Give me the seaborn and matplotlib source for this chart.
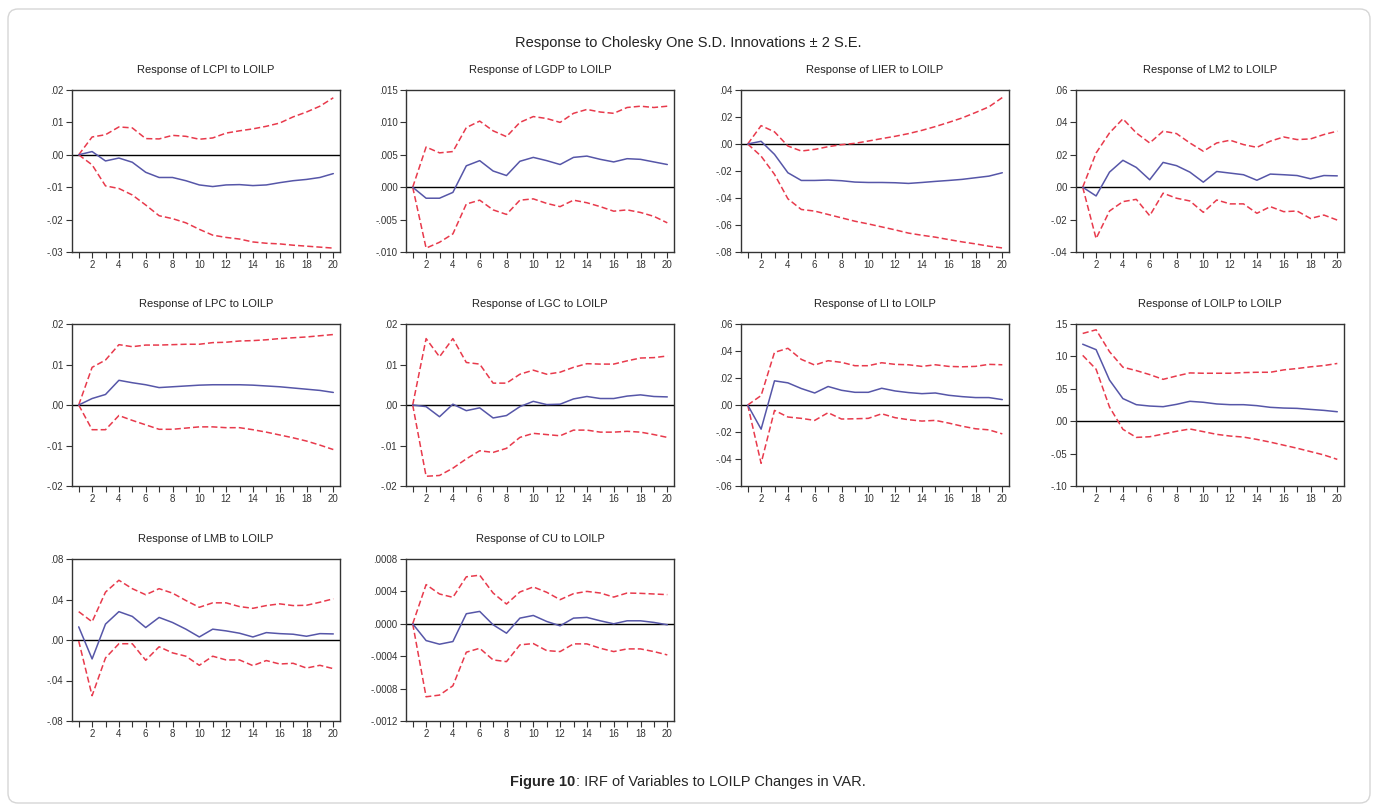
import matplotlib
matplotlib.use("Agg")
import matplotlib.pyplot as plt
from matplotlib.patches import FancyBboxPatch
from matplotlib.transforms import IdentityTransform
import seaborn as sns

steps = list(range(1, 21))
x_labels = [str(s) if s % 2 == 0 else "" for s in steps]

# impulse responses (solid) and +/- 2 S.E. bands (dashed)
lcpi_resp = [0.0, 0.001, -0.0019, -0.001, -0.0023, -0.0054, -0.007, -0.007, -0.008, -0.0093,
             -0.0098, -0.0093, -0.0092, -0.0095, -0.0093, -0.0086, -0.008, -0.0076, -0.007, -0.0058]
lcpi_upper = [0.0, 0.0055, 0.0062, 0.0086, 0.0083, 0.005, 0.0049, 0.006, 0.0057, 0.0048,
              0.0052, 0.0067, 0.0074, 0.008, 0.0088, 0.0098, 0.0117, 0.0132, 0.015, 0.0176]
lcpi_lower = [0.0, -0.0031, -0.0096, -0.0104, -0.0124, -0.0155, -0.0188, -0.0197, -0.021, -0.023,
              -0.0248, -0.0255, -0.026, -0.0269, -0.0273, -0.0275, -0.0279, -0.0282, -0.0285, -0.0288]

lgdp_resp = [0.0, -0.0017, -0.0017, -0.0008, 0.0033, 0.0041, 0.0025, 0.0018, 0.004, 0.0046,
             0.0041, 0.0035, 0.0046, 0.0048, 0.0043, 0.0039, 0.0044, 0.0043, 0.0039, 0.0035]
lgdp_upper = [0.0, 0.0062, 0.0053, 0.0055, 0.0092, 0.0102, 0.0087, 0.0078, 0.01, 0.0109,
              0.0106, 0.01, 0.0114, 0.012, 0.0116, 0.0114, 0.0123, 0.0125, 0.0123, 0.0125]
lgdp_lower = [0.0, -0.0094, -0.0085, -0.0072, -0.0026, -0.002, -0.0035, -0.0042, -0.002, -0.0018,
              -0.0025, -0.003, -0.002, -0.0024, -0.003, -0.0037, -0.0035, -0.0039, -0.0045, -0.0055]

lier_resp = [0.0, 0.002, -0.0077, -0.0213, -0.027, -0.027, -0.0267, -0.0272, -0.0282, -0.0285,
             -0.0285, -0.0287, -0.0292, -0.0285, -0.0277, -0.027, -0.0262, -0.025, -0.0238, -0.0213]
lier_upper = [0.0, 0.0136, 0.009, -0.0015, -0.0052, -0.004, -0.002, -0.0005, 0.0005, 0.0022,
              0.004, 0.0057, 0.0077, 0.0101, 0.0129, 0.016, 0.0193, 0.0233, 0.0275, 0.0344]
lier_lower = [0.0, -0.009, -0.0225, -0.0406, -0.0485, -0.0497, -0.0522, -0.0547, -0.0572, -0.0592,
              -0.0614, -0.0636, -0.066, -0.0676, -0.069, -0.0708, -0.0725, -0.074, -0.0757, -0.077]

lm2_resp = [0.0, -0.0054, 0.0093, 0.0166, 0.0122, 0.0046, 0.0153, 0.0133, 0.0093, 0.0031,
            0.0097, 0.0087, 0.0077, 0.0043, 0.0081, 0.0077, 0.0072, 0.0052, 0.0072, 0.007]
lm2_upper = [0.0, 0.0211, 0.0335, 0.0422, 0.0335, 0.0273, 0.0346, 0.0331, 0.0273, 0.0222,
             0.0273, 0.029, 0.0263, 0.0246, 0.0284, 0.031, 0.0294, 0.0298, 0.0325, 0.0346]
lm2_lower = [0.0, -0.0317, -0.0147, -0.0089, -0.0075, -0.0176, -0.0037, -0.0068, -0.0085, -0.0155,
             -0.0079, -0.0103, -0.0103, -0.0161, -0.012, -0.0151, -0.0147, -0.0193, -0.0172, -0.0203]

lpc_resp = [0.0, 0.0016, 0.0026, 0.0061, 0.0055, 0.005, 0.0043, 0.0045, 0.0047, 0.0049,
            0.005, 0.005, 0.005, 0.0049, 0.0047, 0.0045, 0.0042, 0.0039, 0.0036, 0.0031]
lpc_upper = [0.0, 0.0093, 0.0111, 0.0149, 0.0144, 0.0148, 0.0148, 0.0149, 0.015, 0.015,
             0.0154, 0.0155, 0.0158, 0.0159, 0.0161, 0.0164, 0.0166, 0.0168, 0.0171, 0.0174]
lpc_lower = [0.0, -0.0061, -0.0061, -0.0026, -0.0038, -0.0049, -0.006, -0.006, -0.0057, -0.0054,
             -0.0054, -0.0056, -0.0056, -0.0061, -0.0067, -0.0074, -0.0081, -0.0089, -0.0099, -0.011]

lgc_resp = [0.0, -0.0004, -0.0029, 0.0002, -0.0014, -0.0007, -0.0032, -0.0026, -0.0004, 0.0009,
            0.0001, 0.0002, 0.0015, 0.0021, 0.0016, 0.0016, 0.0022, 0.0025, 0.0021, 0.002]
lgc_upper = [0.0, 0.0164, 0.0119, 0.0164, 0.0105, 0.0101, 0.0054, 0.0054, 0.0076, 0.0086,
             0.0076, 0.0081, 0.0093, 0.0102, 0.0101, 0.0101, 0.0109, 0.0116, 0.0117, 0.0121]
lgc_lower = [0.0, -0.0176, -0.0174, -0.0156, -0.0133, -0.0113, -0.0117, -0.0107, -0.008, -0.007,
             -0.0073, -0.0076, -0.0062, -0.0062, -0.0067, -0.0067, -0.0065, -0.0067, -0.0073, -0.008]

li_resp = [0.0, -0.0179, 0.0179, 0.0164, 0.0122, 0.0089, 0.0137, 0.0109, 0.0094, 0.0094,
           0.0124, 0.0104, 0.0092, 0.0084, 0.0089, 0.0072, 0.0062, 0.0055, 0.0055, 0.004]
li_upper = [0.0, 0.007, 0.039, 0.042, 0.0338, 0.0296, 0.0328, 0.0316, 0.0291, 0.0291,
            0.0313, 0.0301, 0.0298, 0.0286, 0.0298, 0.0286, 0.0283, 0.0286, 0.0301, 0.0298]
li_lower = [0.0, -0.0432, -0.004, -0.0089, -0.0099, -0.0114, -0.0057, -0.0104, -0.0102, -0.0099,
            -0.0065, -0.0094, -0.0109, -0.0119, -0.0114, -0.0134, -0.0157, -0.0176, -0.0184, -0.0214]

loilp_resp = [0.1188, 0.1104, 0.0635, 0.0349, 0.0255, 0.0234, 0.0224, 0.026, 0.0307, 0.0292,
              0.0266, 0.0255, 0.0255, 0.024, 0.0214, 0.0203, 0.0198, 0.0182, 0.0167, 0.0146]
loilp_upper = [0.1354, 0.1411, 0.1073, 0.0833, 0.0781, 0.0719, 0.0646, 0.0698, 0.0745, 0.074,
               0.074, 0.074, 0.075, 0.0755, 0.0755, 0.0792, 0.0813, 0.0839, 0.0859, 0.0891]
loilp_lower = [0.1016, 0.0802, 0.0219, -0.0125, -0.025, -0.024, -0.0198, -0.0156, -0.012, -0.0161,
               -0.0203, -0.0229, -0.0245, -0.0281, -0.0323, -0.037, -0.0417, -0.0469, -0.0521, -0.0589]

lmb_resp = [0.013, -0.0187, 0.0157, 0.028, 0.0233, 0.0123, 0.0223, 0.0173, 0.0107, 0.003,
            0.0107, 0.009, 0.0067, 0.003, 0.0073, 0.0063, 0.0057, 0.0037, 0.0063, 0.006]
lmb_upper = [0.028, 0.018, 0.0473, 0.059, 0.0507, 0.0447, 0.0507, 0.0463, 0.039, 0.0323,
             0.0367, 0.0367, 0.033, 0.0313, 0.034, 0.0357, 0.034, 0.0343, 0.0373, 0.0407]
lmb_lower = [-0.001, -0.055, -0.0177, -0.0037, -0.0037, -0.02, -0.0067, -0.0127, -0.016, -0.025,
             -0.016, -0.0197, -0.0197, -0.0253, -0.0203, -0.0237, -0.023, -0.0277, -0.025, -0.0283]

cu_resp = [0.0, -0.000207, -0.000252, -0.000219, 0.000124, 0.000153, -0.000012, -0.000116, 0.00007, 0.000103,
           0.000029, -0.000025, 0.00007, 0.000079, 0.000037, 0.0, 0.000037, 0.000037, 0.000017, -0.000012]
cu_upper = [0.0, 0.000484, 0.000368, 0.000327, 0.00058, 0.0006, 0.00038, 0.000244, 0.000393, 0.000455,
            0.000389, 0.000298, 0.000372, 0.0004, 0.00038, 0.00033, 0.00038, 0.000376, 0.000368, 0.00036]
cu_lower = [0.0, -0.000901, -0.00088, -0.000765, -0.000351, -0.000302, -0.000446, -0.000467, -0.00026, -0.000244,
            -0.000331, -0.000343, -0.000248, -0.000248, -0.000302, -0.000343, -0.00031, -0.00031, -0.000343, -0.000384]

# y-axis ticks and their EViews-style labels, one list per panel
lcpi_ticks = [-0.03, -0.02, -0.01, 0.0, 0.01, 0.02]
lcpi_labels = ["-.03", "-.02", "-.01", ".00", ".01", ".02"]
lgdp_ticks = [-0.010, -0.005, 0.0, 0.005, 0.010, 0.015]
lgdp_labels = ["-.010", "-.005", ".000", ".005", ".010", ".015"]
lier_ticks = [-0.08, -0.06, -0.04, -0.02, 0.0, 0.02, 0.04]
lier_labels = ["-.08", "-.06", "-.04", "-.02", ".00", ".02", ".04"]
lm2_ticks = [-0.04, -0.02, 0.0, 0.02, 0.04, 0.06]
lm2_labels = ["-.04", "-.02", ".00", ".02", ".04", ".06"]
lpc_ticks = [-0.02, -0.01, 0.0, 0.01, 0.02]
lpc_labels = ["-.02", "-.01", ".00", ".01", ".02"]
lgc_ticks = [-0.02, -0.01, 0.0, 0.01, 0.02]
lgc_labels = ["-.02", "-.01", ".00", ".01", ".02"]
li_ticks = [-0.06, -0.04, -0.02, 0.0, 0.02, 0.04, 0.06]
li_labels = ["-.06", "-.04", "-.02", ".00", ".02", ".04", ".06"]
loilp_ticks = [-0.10, -0.05, 0.0, 0.05, 0.10, 0.15]
loilp_labels = ["-.10", "-.05", ".00", ".05", ".10", ".15"]
lmb_ticks = [-0.08, -0.04, 0.0, 0.04, 0.08]
lmb_labels = ["-.08", "-.04", ".00", ".04", ".08"]
cu_ticks = [-0.0012, -0.0008, -0.0004, 0.0, 0.0004, 0.0008]
cu_labels = ["-.0012", "-.0008", "-.0004", ".0000", ".0004", ".0008"]

panels = [
    ("LCPI", lcpi_resp, lcpi_upper, lcpi_lower, lcpi_ticks, lcpi_labels),
    ("LGDP", lgdp_resp, lgdp_upper, lgdp_lower, lgdp_ticks, lgdp_labels),
    ("LIER", lier_resp, lier_upper, lier_lower, lier_ticks, lier_labels),
    ("LM2", lm2_resp, lm2_upper, lm2_lower, lm2_ticks, lm2_labels),
    ("LPC", lpc_resp, lpc_upper, lpc_lower, lpc_ticks, lpc_labels),
    ("LGC", lgc_resp, lgc_upper, lgc_lower, lgc_ticks, lgc_labels),
    ("LI", li_resp, li_upper, li_lower, li_ticks, li_labels),
    ("LOILP", loilp_resp, loilp_upper, loilp_lower, loilp_ticks, loilp_labels),
    ("LMB", lmb_resp, lmb_upper, lmb_lower, lmb_ticks, lmb_labels),
    ("CU", cu_resp, cu_upper, cu_lower, cu_ticks, cu_labels),
]

sns.set_theme(style="ticks")
plt.rcParams['font.family'] = ['Liberation Sans', 'DejaVu Sans']

W, H = 1376, 807
fig = plt.figure(figsize=(W / 100, H / 100), dpi=100)
fig.patch.set_facecolor("white")

col_left = [72, 406, 741, 1076]
row_top = [90, 324, 559]
ax_w, ax_h = 268, 162

blue = "#5656a8"
red = "#e83a4c"

for i, (name, resp, upper, lower, yt, ytl) in enumerate(panels):
    r, c = divmod(i, 4)
    ax = fig.add_axes([col_left[c] / W, 1 - (row_top[r] + ax_h) / H, ax_w / W, ax_h / H])
    ax.axhline(0, color="black", lw=1, zorder=1)
    sns.lineplot(x=steps, y=upper, ax=ax, color=red, lw=1.1, linestyle=(0, (4, 2)))
    sns.lineplot(x=steps, y=lower, ax=ax, color=red, lw=1.1, linestyle=(0, (4, 2)))
    sns.lineplot(x=steps, y=resp, ax=ax, color=blue, lw=1.1)
    ax.set_xticks(steps)
    ax.set_xticklabels(x_labels)
    ax.set_yticks(yt)
    ax.set_yticklabels(ytl)
    ax.set_xlim(0.5, 20.5)
    ax.set_ylim(yt[0], yt[-1])
    ax.tick_params(axis="both", direction="out", length=4, width=0.8, labelsize=7,
                   colors="#333333", pad=2)
    for sp in ax.spines.values():
        sp.set_color("#333333")
        sp.set_linewidth(1)
    ax.set_title("Response of {} to LOILP".format(name), fontsize=8, pad=12, color="#222222")

fig.text(0.5, 1 - 43 / H, "Response to Cholesky One S.D. Innovations \u00b1 2 S.E.",
         ha="center", va="center", fontsize=10.5, color="#222222")

# caption: bold "Figure 10" followed by regular text, centred as one line
renderer = fig.canvas.get_renderer()
cap_y = 1 - 782 / H
t_bold = fig.text(0, cap_y, "Figure 10", fontsize=10.5, fontweight="bold", va="center")
t_rest = fig.text(0, cap_y, ": IRF of Variables to LOILP Changes in VAR.", fontsize=10.5, va="center")
wb = t_bold.get_window_extent(renderer).width
wr = t_rest.get_window_extent(renderer).width
start = (W / 2 - (wb + wr) / 2) / W
t_bold.set_x(start)
t_rest.set_x(start + wb / W)

border = FancyBboxPatch((8, 4), 1362, 794, boxstyle="round,pad=0,rounding_size=10",
                        transform=IdentityTransform(), fill=False, edgecolor="#d6d6d6", lw=1)
fig.patches.append(border)

fig.savefig("out.png", dpi=100)
